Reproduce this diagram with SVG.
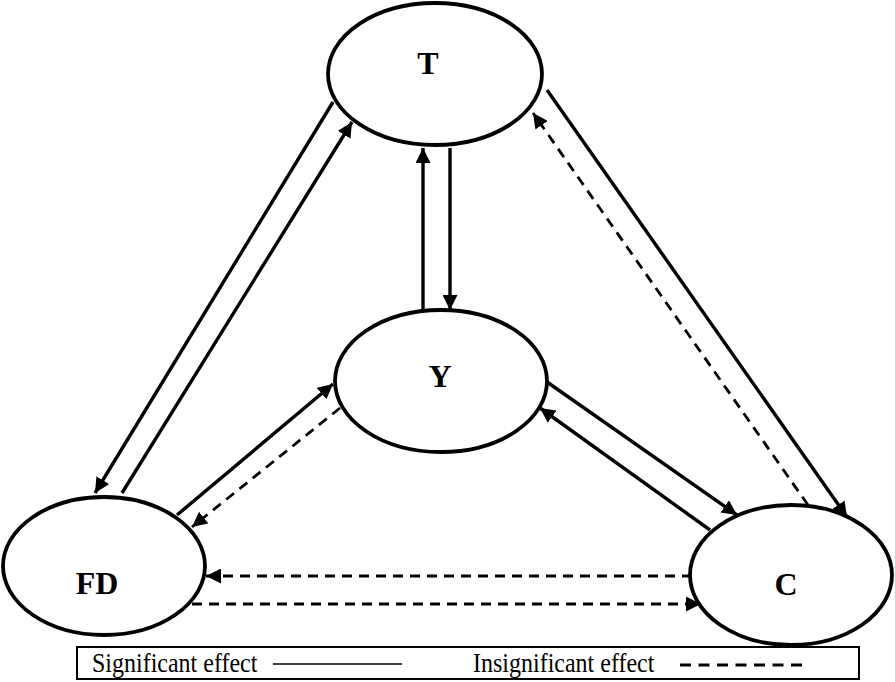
<svg xmlns="http://www.w3.org/2000/svg" width="895" height="682" viewBox="0 0 895 682">
<style>
.node ellipse{fill:#fff;stroke:#000;stroke-width:3.8}
.lbl{font-family:"Liberation Serif","Times New Roman",serif;font-weight:bold;font-size:32px;text-anchor:middle;fill:#000}
.sol{fill:none;stroke:#000;stroke-width:3.4;marker-end:url(#ah)}
.dsh{fill:none;stroke:#000;stroke-width:2.8;stroke-dasharray:10 7;marker-end:url(#ah)}
.leg{font-family:"Liberation Serif","Times New Roman",serif;font-size:24px;fill:#000}
</style>
<defs>
<marker id="ah" markerUnits="userSpaceOnUse" markerWidth="16" markerHeight="15" refX="15" refY="7.5" orient="auto">
<path d="M0,0 L15,7.5 L0,15 z" fill="#000"/>
</marker>
</defs>
<rect width="895" height="682" fill="#fff"/>
<g id="connectors">
<path class="sol" d="M333,102 L95,493"/>
<path class="sol" d="M122,493 L352,122"/>
<path class="sol" d="M423,310 L423,148"/>
<path class="sol" d="M450,148 L450,310"/>
<path class="sol" d="M547,90 L847,517"/>
<path class="dsh" d="M808,505 L533,113"/>
<path class="sol" d="M547,382 L737,515"/>
<path class="sol" d="M710,530 L540,408"/>
<path class="dsh" d="M340,408 L192,527"/>
<path class="sol" d="M177,515 L333,384"/>
<path class="dsh" d="M692,576 L206,576"/>
<path class="dsh" d="M192,604 L701,604"/>
</g>
<g id="node-T" class="node"><ellipse cx="435" cy="74" rx="107" ry="71"/><text class="lbl" x="428" y="74">T</text></g>
<g id="node-Y" class="node"><ellipse cx="441" cy="381" rx="106" ry="71"/><text class="lbl" x="440" y="387">Y</text></g>
<g id="node-FD" class="node"><ellipse cx="104" cy="566" rx="101" ry="69"/><text class="lbl" x="97" y="594">FD</text></g>
<g id="node-C" class="node"><ellipse cx="791" cy="575" rx="101" ry="70"/><text class="lbl" x="786" y="595">C</text></g>
<g id="legend">
<rect x="77" y="647" width="782" height="32" fill="#fff" stroke="#000" stroke-width="2"/>
<text class="leg" transform="translate(92,672) scale(1,1.12)">Significant effect</text>
<line x1="273" y1="664" x2="402" y2="664" stroke="#000" stroke-width="1.5"/>
<text class="leg" transform="translate(473,672) scale(1,1.12)">Insignificant effect</text>
<line x1="680" y1="665" x2="803" y2="665" stroke="#000" stroke-width="3" stroke-dasharray="11 7.5"/>
</g>
</svg>
